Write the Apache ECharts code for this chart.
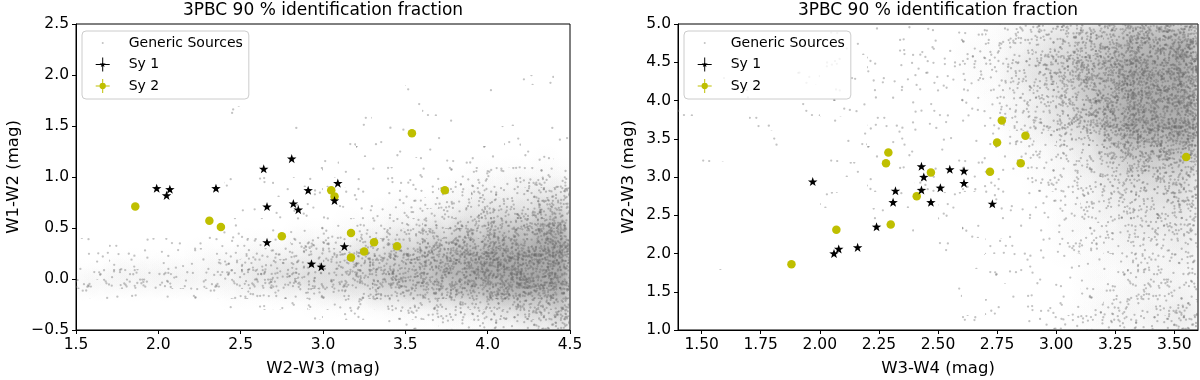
<!DOCTYPE html>
<html>
<head>
<meta charset="utf-8">
<script src="https://cdn.jsdelivr.net/npm/echarts@6/dist/echarts.min.js"></script>
<style>html,body{margin:0;padding:0;background:#fff}#chart{width:1200px;height:380px}</style>
</head>
<body>
<div id="chart"></div>
<script>
// ---------------- DATA ----------------
const titleText = '3PBC 90 % identification fraction';
const seriesNames = ['Generic Sources', 'Sy 1', 'Sy 2'];

// Left panel: W2-W3 (x) vs W1-W2 (y)
const leftXTicks = [1.5, 2.0, 2.5, 3.0, 3.5, 4.0, 4.5];
const leftYTicks = [-0.5, 0.0, 0.5, 1.0, 1.5, 2.0, 2.5];
const sy1LeftX = [1.99, 2.07, 2.05, 2.35, 2.64, 2.81, 2.91, 3.09, 2.66, 2.82, 2.85, 3.07, 2.66, 3.13, 2.93, 2.99];
const sy1LeftY = [0.89, 0.88, 0.82, 0.89, 1.08, 1.18, 0.87, 0.94, 0.71, 0.74, 0.68, 0.77, 0.36, 0.32, 0.15, 0.12];
const sy2LeftX = [1.86, 2.31, 2.38, 2.75, 3.05, 3.07, 3.17, 3.17, 3.25, 3.31, 3.45, 3.54, 3.74];
const sy2LeftY = [0.71, 0.57, 0.51, 0.42, 0.87, 0.81, 0.45, 0.21, 0.27, 0.36, 0.32, 1.43, 0.87];

// Right panel: W3-W4 (x) vs W2-W3 (y)
const rightXTicks = [1.50, 1.75, 2.00, 2.25, 2.50, 2.75, 3.00, 3.25, 3.50];
const rightYTicks = [1.0, 1.5, 2.0, 2.5, 3.0, 3.5, 4.0, 4.5, 5.0];
const sy1RightX = [1.97, 2.06, 2.08, 2.16, 2.24, 2.31, 2.32, 2.43, 2.43, 2.44, 2.47, 2.51, 2.55, 2.61, 2.61, 2.73];
const sy1RightY = [2.94, 2.00, 2.06, 2.08, 2.35, 2.67, 2.82, 2.83, 3.14, 3.00, 2.67, 2.86, 3.10, 3.08, 2.92, 2.65];
const sy2RightX = [1.88, 2.07, 2.28, 2.29, 2.30, 2.41, 2.47, 2.72, 2.75, 2.77, 2.85, 2.87, 3.55];
const sy2RightY = [1.86, 2.31, 3.18, 3.32, 2.38, 2.75, 3.06, 3.07, 3.45, 3.74, 3.18, 3.54, 3.26];

// Generic sources: density of points, level 0-9 per cell.
// Left grid: columns x = 1.5..4.5 step 0.1, rows from y = 2.3 (top) down to -0.5 step 0.1
const leftGridX0 = 1.5, leftGridDX = 0.1, leftGridYTop = 2.3, leftGridDY = 0.1;
const leftDensity = [
  "00000 00000 00000 00000 00000 10000",
  "00000 00000 00000 00000 00000 00000",
  "00000 00000 00000 00000 00000 00000",
  "00000 00000 00000 00000 00000 00110",
  "00000 00000 00000 00000 10000 10000",
  "00000 00000 00000 00000 10000 00000",
  "00000 00001 00000 00010 01000 00000",
  "00000 00000 00000 00100 00100 01000",
  "00000 00000 00010 10001 00010 10010",
  "00000 00000 00100 01010 10100 01001",
  "00000 00000 00001 00101 01011 10110",
  "00000 00000 01010 10010 10111 11121",
  "00000 00000 00101 01011 11112 22222",
  "00000 00001 01011 10111 11122 23333",
  "00000 00000 10101 01111 11223 33444",
  "00000 00100 01011 11112 22334 44455",
  "00000 00010 10111 11122 23344 55566",
  "00000 00001 01111 12223 34455 66677",
  "00000 01011 11122 22334 45566 77788",
  "10101 11111 22233 33445 56677 88899",
  "11111 11222 33334 44556 67788 99999",
  "11222 22233 34444 55566 77889 99999",
  "22333 33333 44555 55667 77889 99999",
  "33333 33333 44445 55566 77788 89999",
  "11111 11112 22333 44455 66677 88888",
  "00000 00001 11112 22233 34445 56667",
  "00000 00000 00001 01112 22333 44556",
  "00000 00000 00000 00011 11222 33445"
];
// Right grid: columns x = 1.4..3.6 step 0.1, rows from y = 5.0 (top) down to 1.0 step 0.2
const rightGridX0 = 1.4, rightGridDX = 0.1, rightGridYTop = 5.0, rightGridDY = 0.2;
const rightDensity = [
  "00000 01011 11123 45678 88",
  "00000 10101 11223 45678 89",
  "00000 01011 11224 56789 99",
  "01000 10111 11224 56789 99",
  "00100 01011 11123 45789 99",
  "10000 10101 11123 45789 99",
  "00010 01011 11113 45689 99",
  "00001 00101 11112 34578 89",
  "01000 01011 01112 23467 77",
  "00000 00101 10111 23456 66",
  "00000 00010 10111 22345 55",
  "00000 01001 01011 12344 55",
  "00000 00010 01011 12334 44",
  "00000 00001 00101 12234 44",
  "00000 00000 01011 12233 34",
  "00000 00000 00101 11223 33",
  "01000 00000 00011 11223 33",
  "00000 00000 01001 11223 33",
  "00000 00000 00011 11233 34",
  "00000 00000 00101 12233 44"
];

// ---------------- HELPERS ----------------
const FONT = 'DejaVu Sans';
const SY1_COLOR = '#000000';
const SY2_COLOR = '#bfbf00';
const GENERIC_COLOR = '#bdbdbd';

function zip(xs, ys) { return xs.map((x, i) => [x, ys[i]]); }

function gridCells(rows, x0, dx, yTop, dy) {
  const out = [];
  rows.forEach((row, r) => {
    const s = row.replace(/\s+/g, '');
    for (let c = 0; c < s.length; c++) {
      const lvl = +s[c];
      if (lvl > 0) {
        const xa = x0 + c * dx, ya = yTop - (r + 1) * dy;
        out.push([xa, xa + dx, ya, ya + dy, lvl]);
      }
    }
  });
  return out;
}

// Stipple textures + soft shading used to paint a density cell (style only)
const TILE = 128;
const DOTS_PER_100PX = [0, 0.8, 1.8, 3.2, 5, 7, 9.5, 12.5, 16, 20];
const BASE_ALPHA = [0, 0, 0.02, 0.05, 0.1, 0.16, 0.23, 0.31, 0.4, 0.5];
const BLOB_GAIN = 0.7;
function hash01(i) {
  let h = Math.imul(i + 1, 2654435761) >>> 0;
  h ^= h >>> 15; h = Math.imul(h, 2246822519) >>> 0;
  h ^= h >>> 13; h = Math.imul(h, 3266489917) >>> 0;
  h ^= h >>> 16;
  return (h >>> 0) / 4294967296;
}
function makeTile(level) {
  const c = document.createElement('canvas');
  c.width = c.height = TILE;
  const ctx = c.getContext('2d');
  ctx.fillStyle = 'rgba(105,105,105,0.4)';
  const n = Math.round(DOTS_PER_100PX[level] * TILE * TILE / 100);
  for (let i = 0; i < n; i++) {
    const px = hash01(2 * i) * TILE;
    const py = hash01(2 * i + 1) * TILE;
    for (const ox of [-TILE, 0, TILE]) for (const oy of [-TILE, 0, TILE]) {
      const x = px + ox, y = py + oy;
      if (x < -2 || x > TILE + 2 || y < -2 || y > TILE + 2) continue;
      ctx.beginPath(); ctx.arc(x, y, 1.15, 0, Math.PI * 2); ctx.fill();
    }
  }
  return { image: c, repeat: 'repeat' };
}
const tiles = DOTS_PER_100PX.map((_, l) => l ? makeTile(l) : null);

function densityRender(params, api) {
  const a = api.coord([api.value(0), api.value(3)]);
  const b = api.coord([api.value(1), api.value(2)]);
  const lvl = api.value(4);
  const x = Math.round(a[0]), y = Math.round(a[1]);
  const w = Math.round(b[0]) - x, h = Math.round(b[1]) - y;
  const children = [];
  if (BASE_ALPHA[lvl] > 0) {
    const R = 1.1 * Math.max(w, h);
    const A = (BASE_ALPHA[lvl] * BLOB_GAIN).toFixed(3);
    children.push({
      type: 'circle', silent: true,
      shape: { cx: x + w / 2, cy: y + h / 2, r: R },
      style: { fill: { type: 'radial', x: 0.5, y: 0.5, r: 0.5, colorStops: [
        { offset: 0, color: 'rgba(100,100,100,' + A + ')' },
        { offset: 1, color: 'rgba(100,100,100,0)' }] } }
    });
  }
  children.push({ type: 'rect', silent: true, shape: { x: x, y: y, width: w, height: h }, style: { fill: tiles[lvl] } });
  return { type: 'group', children: children };
}

const STAR = 'path://M10 0L12.35 6.76L19.51 6.91L13.8 11.24L15.88 18.09L10 14L4.12 18.09L6.2 11.24L0.49 6.91L7.65 6.76Z';
const ICON_GENERIC = 'path://M0 0M40 20M8.8 8.8h2.4v2.4h-2.4z';
const ICON_SY1 = 'path://M0 0M40 20M0 9.3h20v1.4h-20zM9.3 0h1.4v20h-1.4zM10 5.5L11.12 8.46L14.28 8.61L11.81 10.59L12.65 13.64L10 11.9L7.35 13.64L8.19 10.59L5.72 8.61L8.88 8.46Z';
const ICON_SY2 = 'path://M0 0M40 20M0 9.3h20v1.4h-20zM9.3 0h1.4v20h-1.4zM14.5 10A4.5 4.5 0 1 1 5.5 10A4.5 4.5 0 1 1 14.5 10Z';

const fmt1 = v => (v < 0 ? '\u2212' : '') + Math.abs(v).toFixed(1);
const fmt2 = v => v.toFixed(2);

function axisCommon(name, gridIndex, gap) {
  return {
    gridIndex: gridIndex,
    type: 'value',
    name: name,
    nameLocation: 'middle',
    nameGap: gap,
    nameMoveOverlap: false,
    nameTextStyle: { fontSize: 16.5, color: '#000', fontFamily: FONT },
    axisLine: { show: true, onZero: false, lineStyle: { color: '#000', width: 1 } },
    axisTick: { show: true, inside: false, length: 4, lineStyle: { color: '#000', width: 1 } },
    axisLabel: { fontSize: 15.5, color: '#000', fontFamily: FONT, margin: 7, showMinLabel: true, showMaxLabel: true },
    splitLine: { show: false }
  };
}

const xL = axisCommon('W2-W3 (mag)', 0, 30);
Object.assign(xL, { min: leftXTicks[0], max: leftXTicks[leftXTicks.length - 1], interval: 0.5 });
xL.axisLabel.formatter = fmt1;
const yL = axisCommon('W1-W2 (mag)', 0, 54);
Object.assign(yL, { min: leftYTicks[0], max: leftYTicks[leftYTicks.length - 1], interval: 0.5 });
yL.axisLabel.formatter = fmt1;

const xR = axisCommon('W3-W4 (mag)', 1, 30);
Object.assign(xR, { min: 1.4, max: 3.6 });
xR.axisLabel.formatter = fmt2;
xR.axisLabel.customValues = rightXTicks;
xR.axisTick.customValues = rightXTicks;
const yR = axisCommon('W2-W3 (mag)', 1, 41);
Object.assign(yR, { min: rightYTicks[0], max: rightYTicks[rightYTicks.length - 1], interval: 0.5 });
yR.axisLabel.formatter = fmt1;

const legendItems = [
  { name: seriesNames[0], icon: ICON_GENERIC, itemStyle: { color: GENERIC_COLOR } },
  { name: seriesNames[1], icon: ICON_SY1, itemStyle: { color: SY1_COLOR } },
  { name: seriesNames[2], icon: ICON_SY2, itemStyle: { color: SY2_COLOR } }
];
function legendAt(left) {
  return {
    left: left, top: 31, orient: 'vertical',
    padding: [5, 6, 6, 13.7],
    itemWidth: 28, itemHeight: 14, itemGap: 7.5,
    backgroundColor: 'rgba(255,255,255,0.8)',
    borderColor: '#cccccc', borderWidth: 1, borderRadius: 4,
    textStyle: { fontSize: 14, color: '#000', fontFamily: FONT },
    selectedMode: false,
    data: legendItems
  };
}

function densitySeries(data, idx) {
  return {
    name: seriesNames[0], type: 'custom', xAxisIndex: idx, yAxisIndex: idx,
    renderItem: densityRender, data: data, clip: true, z: 1, silent: true,
    encode: { x: [0, 1], y: [2, 3] },
    itemStyle: { color: GENERIC_COLOR }
  };
}
function starSeries(data, idx) {
  return {
    name: seriesNames[1], type: 'scatter', xAxisIndex: idx, yAxisIndex: idx,
    data: data, symbol: STAR, symbolKeepAspect: true, symbolSize: 9.5, z: 4,
    itemStyle: { color: SY1_COLOR, opacity: 1 }
  };
}
function circleSeries(data, idx) {
  return {
    name: seriesNames[2], type: 'scatter', xAxisIndex: idx, yAxisIndex: idx,
    data: data, symbol: 'circle', symbolSize: 8.5, z: 3,
    itemStyle: { color: SY2_COLOR, opacity: 1 }
  };
}

const chart = echarts.init(document.getElementById('chart'), null, { renderer: 'canvas' });
chart.setOption({
  animation: false,
  backgroundColor: '#fff',
  textStyle: { fontFamily: FONT },
  title: [
    { text: titleText, left: 323, top: 2, textAlign: 'center', padding: 0,
      textStyle: { fontSize: 17, fontWeight: 'normal', color: '#000', fontFamily: FONT } },
    { text: titleText, left: 938, top: 2, textAlign: 'center', padding: 0,
      textStyle: { fontSize: 17, fontWeight: 'normal', color: '#000', fontFamily: FONT } }
  ],
  legend: [legendAt(82), legendAt(684)],
  grid: [
    { left: 76, top: 24, width: 494, height: 306, show: true, borderColor: '#000', borderWidth: 1, backgroundColor: 'transparent', containLabel: false, outerBoundsMode: 'none' },
    { left: 678, top: 24, width: 520, height: 306, show: true, borderColor: '#000', borderWidth: 1, backgroundColor: 'transparent', containLabel: false, outerBoundsMode: 'none' }
  ],
  xAxis: [xL, xR],
  yAxis: [yL, yR],
  series: [
    densitySeries(gridCells(leftDensity, leftGridX0, leftGridDX, leftGridYTop, leftGridDY), 0),
    circleSeries(zip(sy2LeftX, sy2LeftY), 0),
    starSeries(zip(sy1LeftX, sy1LeftY), 0),
    densitySeries(gridCells(rightDensity, rightGridX0, rightGridDX, rightGridYTop, rightGridDY), 1),
    circleSeries(zip(sy2RightX, sy2RightY), 1),
    starSeries(zip(sy1RightX, sy1RightY), 1)
  ]
});
</script>
</body>
</html>
